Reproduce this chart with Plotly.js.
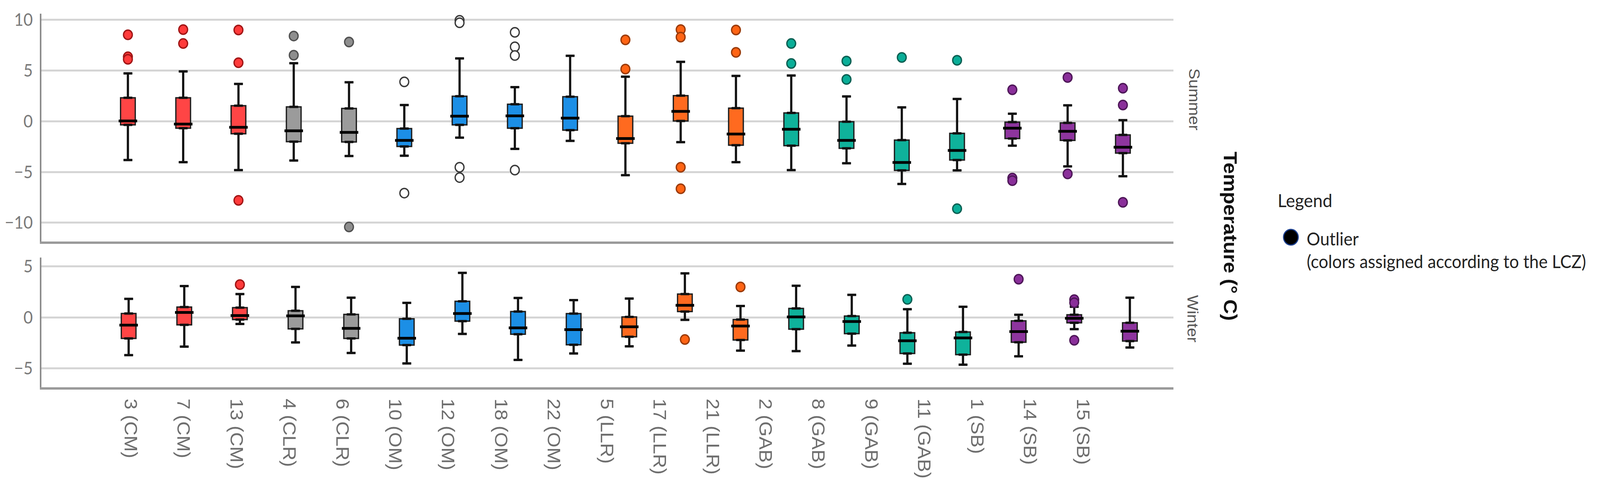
<!DOCTYPE html>
<html>
<head>
<meta charset="utf-8">
<script src="https://cdn.plot.ly/plotly-3.0.1.min.js"></script>
<style>html,body{margin:0;padding:0;background:#fff;overflow:hidden;}#chart{width:4353px;height:1259px;transform-origin:0 0;}</style>
</head>
<body>
<div id="chart"></div>
<script>
// ---------- DATA ----------
const categories = ['3 (CM)','7 (CM)','13 (CM)','4 (CLR)','6 (CLR)','10 (OM)','12 (OM)','18 (OM)','22 (OM)',
  '5 (LLR)','17 (LLR)','21 (LLR)','2 (GAB)','8 (GAB)','9 (GAB)','11 (GAB)','1 (SB)','14 (SB)','15 (SB)'];
const lczGroup = ['CM','CM','CM','CLR','CLR','OM','OM','OM','OM','LLR','LLR','LLR','GAB','GAB','GAB','GAB','SB','SB','SB'];

// Summer
const summerLower = [-3.82,-4.03,-4.81,-3.87,-3.43,-3.40,-1.62,-2.72,-1.93,-5.31,-2.06,-4.03,-4.81,-4.14,-6.18,-4.84,-2.41,-4.45,-5.42];
const summerQ1    = [-0.36,-0.68,-1.23,-2.01,-2.04,-2.48,-0.36,-0.68,-0.88,-2.17, 0.03,-2.36,-2.41,-2.67,-4.84,-3.82,-1.70,-1.89,-3.14];
const summerMed   = [ 0.03,-0.28,-0.60,-0.94,-1.10,-1.89, 0.50, 0.53, 0.31,-1.70, 0.97,-1.26,-0.79,-1.89,-4.06,-2.88,-0.68,-0.99,-2.56];
const summerQ3    = [ 2.31, 2.31, 1.53, 1.42, 1.26,-0.72, 2.47, 1.68, 2.42, 0.50, 2.52, 1.29, 0.82,-0.05,-1.86,-1.19,-0.09,-0.16,-1.35];
const summerUpper = [ 4.72, 4.91, 3.68, 5.72, 3.84, 1.60, 6.19, 3.36, 6.45, 4.39, 5.85, 4.47, 4.51, 2.45, 1.37, 2.20, 0.74, 1.57, 0.11];
const summerOutliers = [
  [8.52, 6.35, 6.1], [9.03, 7.66], [8.99, 5.77, -7.8], [8.40, 6.51], [7.81, -10.42],
  [3.88, -7.08], [9.95, 9.7, -4.53, -5.55], [8.76, 7.34, 6.48, -4.81], [],
  [8.02, 5.14], [9.03, 8.29, -4.53, -6.65], [8.99, 6.79],
  [7.66, 5.69], [5.93, 4.12], [6.29], [6.01, -8.62],
  [3.10, -5.6, -5.85], [4.31, -5.19], [3.25, 1.60, -7.99]
];

// Winter
const winterLower = [-3.69,-2.86,-0.63,-2.44,-3.48,-4.50,-1.61,-4.16,-3.53,-2.83,-0.23,-3.25,-3.30,-2.75,-4.53,-4.63,-3.80,-1.14,-2.94];
const winterQ1    = [-2.05,-0.72,-0.20,-1.11,-2.05,-2.70,-0.36,-1.64,-2.67,-1.89, 0.58,-2.20,-1.14,-1.58,-3.53,-3.64,-2.42,-0.52,-2.31];
const winterMed   = [-0.75, 0.50, 0.19, 0.16,-1.06,-2.03, 0.39,-1.02,-1.19,-0.91, 1.20,-0.83, 0.06,-0.39,-2.28,-2.00,-1.38,-0.08,-1.34];
const winterQ3    = [ 0.39, 1.02, 0.97, 0.66, 0.31,-0.13, 1.59, 0.58, 0.38, 0.06, 2.30,-0.20, 0.89, 0.14,-1.50,-1.42,-0.33, 0.27,-0.52];
const winterUpper = [ 1.83, 3.08, 2.30, 3.00, 1.94, 1.44, 4.38, 1.91, 1.70, 1.86, 4.33, 1.13, 3.11, 2.22, 0.81, 1.05, 0.27, 1.05, 1.94];
const winterOutliers = [
  [], [], [3.23], [], [], [], [], [], [],
  [], [-2.16], [3.0],
  [], [], [1.78], [],
  [3.75], [1.75, 1.45, -2.23], []
];

const yTicks = [-10, -5, 0, 5, 10];
const yTicksWinter = [-5, 0, 5];

// ---------- STYLE ----------
const groupOrder = ['CM','CLR','OM','LLR','GAB','SB'];
const boxFill = {CM:'#ff4545', CLR:'#9b9b9b', OM:'#1c8fe6', LLR:'#ff6a1f', GAB:'#0fb29b', SB:'#8e359e'};
const outFill = {CM:'#ff3b3b', CLR:'#8e8e8e', OM:'#ffffff', LLR:'#ff6414', GAB:'#0aae98', SB:'#8a2f9a'};
const outLine = {CM:'#a01515', CLR:'#505050', OM:'#3a3a3a', LLR:'#9a3a08', GAB:'#0a5f52', SB:'#4e1758'};

const W = 4353, H = 1259;
const ml = 113, mr = W - 3192, mt = 35, mb = H - 991;
const pw = W - ml - mr, ph = H - mt - mb;
const px = x => (x - ml) / pw;
const py = y => (H - mb - y) / ph;

// if the real window is smaller than the design size, fit the drawing to it
const chartDiv = document.getElementById('chart');
const sx = Math.min(1, window.innerWidth / W), sy = Math.min(1, window.innerHeight / H);
if (sx < 0.999 || sy < 0.999) chartDiv.style.transform = 'scale(' + sx + ',' + sy + ')';

const longTxt = '(colors assigned according to the LCZ)';
const legFont = 'Lato, sans-serif';

const traces = [];
function addPanel(xa, ya, lower, q1, med, q3, upper, outs, bw) {
  // thick whiskers (drawn under the boxes)
  traces.push({
    type: 'scatter', mode: 'markers', xaxis: xa, yaxis: ya, x: categories, y: q3,
    marker: {size: 1, opacity: 0},
    error_y: {type: 'data', symmetric: false, array: upper.map((u, i) => u - q3[i]),
              arrayminus: q3.map(() => 0), color: '#111', thickness: 6, width: 12},
    showlegend: false, hoverinfo: 'skip'
  });
  traces.push({
    type: 'scatter', mode: 'markers', xaxis: xa, yaxis: ya, x: categories, y: q1,
    marker: {size: 1, opacity: 0},
    error_y: {type: 'data', symmetric: false, array: q1.map(() => 0),
              arrayminus: lower.map((l, i) => q1[i] - l), color: '#111', thickness: 6, width: 12},
    showlegend: false, hoverinfo: 'skip'
  });
  groupOrder.forEach(g => {
    const idx = categories.map((c, i) => i).filter(i => lczGroup[i] === g);
    traces.push({
      type: 'box', xaxis: xa, yaxis: ya,
      x: idx.map(i => categories[i]),
      lowerfence: idx.map(i => lower[i]),
      q1: idx.map(i => q1[i]),
      median: idx.map(i => med[i]),
      q3: idx.map(i => q3[i]),
      upperfence: idx.map(i => upper[i]),
      boxpoints: false, width: bw, whiskerwidth: 0.6,
      fillcolor: boxFill[g], line: {color: '#1e1e1e', width: 3.5},
      showlegend: false, hoverinfo: 'skip'
    });
    const ox = [], oy = [];
    idx.forEach(i => outs[i].forEach(v => { ox.push(categories[i]); oy.push(v); }));
    if (ox.length) traces.push({
      type: 'scatter', mode: 'markers', xaxis: xa, yaxis: ya, x: ox, y: oy,
      marker: {symbol: 'circle', size: 24, color: outFill[g], line: {color: outLine[g], width: 3.5}},
      showlegend: false, hoverinfo: 'skip'
    });
  });
  traces.push({
    type: 'scatter', mode: 'markers', xaxis: xa, yaxis: ya, x: categories, y: med,
    marker: {symbol: 'line-ew', size: 36, color: '#000', line: {color: '#000', width: 7}},
    showlegend: false, hoverinfo: 'skip'
  });
}
addPanel('x', 'y', summerLower, summerQ1, summerMed, summerQ3, summerUpper, summerOutliers, 0.266);
addPanel('x2', 'y2', winterLower, winterQ1, winterMed, winterQ3, winterUpper, winterOutliers, 0.264);
// carrier for the category label axis
traces.push({type:'scatter', mode:'markers', xaxis:'x3', yaxis:'y2',
  x: categories.map((c, i) => i), y: winterMed, marker:{opacity:0}, showlegend:false, hoverinfo:'skip'});

const gridCol = '#d5d5d5';
const yCommon = {
  showgrid: true, gridcolor: gridCol, gridwidth: 5, zeroline: false,
  showline: true, linecolor: '#8c8c8c', linewidth: 5, ticks: '',
  tickfont: {family: 'Lato, Liberation Sans, sans-serif', size: 44, color: '#7a7a7a'},
  ticklabelstandoff: 10, tickmode: 'array'
};
const xCommon = {
  type: 'category', categoryorder: 'array', categoryarray: categories,
  showgrid: false, zeroline: false, showline: true, linecolor: '#9a9a9a', linewidth: 6,
  ticks: '', showticklabels: false
};

const layout = {
  width: W, height: H,
  margin: {l: ml, r: mr, t: mt, b: mb, pad: 0},
  paper_bgcolor: '#fff', plot_bgcolor: '#fff',
  font: {family: 'Liberation Sans, Arial, sans-serif'},
  showlegend: false,
  xaxis: Object.assign({}, xCommon, {anchor: 'y', range: [-1.5625, 18.911]}),
  xaxis2: Object.assign({}, xCommon, {anchor: 'y2', range: [-1.566, 18.78]}),
  xaxis3: {
    overlaying: 'x2', anchor: 'y2', type: 'linear', range: [-1.682, 19.71],
    tickmode: 'array', tickvals: categories.map((c, i) => i), ticktext: categories,
    tickangle: 90, ticks: '', showgrid: false, zeroline: false, showline: false,
    ticklabelstandoff: 28,
    tickfont: {family: 'Liberation Sans, Arial, sans-serif', size: 50, color: '#6e6e6e'}
  },
  yaxis: Object.assign({}, yCommon, {domain: [py(618), 1], range: [-11.85, 10.6], tickvals: yTicks}),
  yaxis2: Object.assign({}, yCommon, {domain: [0, py(659)], range: [-6.84, 5.88], tickvals: yTicksWinter}),
  annotations: [
    {text: 'Summer', xref: 'paper', yref: 'paper', x: px(3250), y: py(254), textangle: 90,
     showarrow: false, xanchor: 'center', yanchor: 'middle',
     font: {family: 'Liberation Sans, Arial, sans-serif', size: 42, color: '#555'}},
    {text: 'Winter', xref: 'paper', yref: 'paper', x: px(3246), y: py(815), textangle: 90,
     showarrow: false, xanchor: 'center', yanchor: 'middle',
     font: {family: 'Liberation Sans, Arial, sans-serif', size: 42, color: '#555'}},
    {text: '<b>Temperature (° C)</b>', xref: 'paper', yref: 'paper', x: px(3348), y: py(604), textangle: 90,
     showarrow: false, xanchor: 'center', yanchor: 'middle',
     font: {family: 'Liberation Sans, Arial, sans-serif', size: 52, color: '#111'}},
    {text: 'Legend', xref: 'paper', yref: 'paper', x: px(3474), y: py(512),
     showarrow: false, xanchor: 'left', yanchor: 'middle',
     font: {family: legFont, size: 47, color: '#222'}},
    {text: 'Outlier', xref: 'paper', yref: 'paper', x: px(3553), y: py(610),
     showarrow: false, xanchor: 'left', yanchor: 'middle',
     font: {family: legFont, size: 46, color: '#222'}},
    {text: longTxt, xref: 'paper', yref: 'paper', x: px(3553), y: py(668),
     showarrow: false, xanchor: 'left', yanchor: 'middle',
     font: {family: legFont, size: 46, color: '#222'}}
  ],
  shapes: [
    {type: 'circle', xref: 'paper', yref: 'paper', xsizemode: 'pixel', ysizemode: 'pixel',
     xanchor: px(3512), yanchor: py(607), x0: -20, x1: 20, y0: -20, y1: 20,
     fillcolor: '#000', line: {color: '#1b3f8f', width: 3}}
  ]
};

Plotly.newPlot('chart', traces, layout, {staticPlot: true});
</script>
</body>
</html>
